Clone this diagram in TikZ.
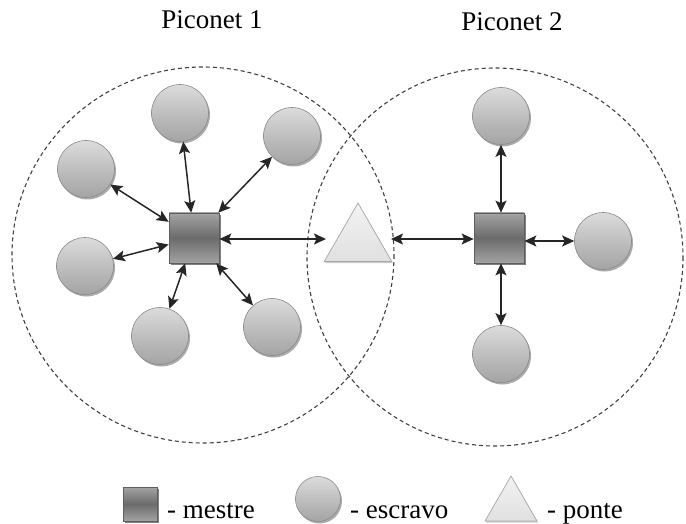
\documentclass[tikz,border=0pt]{standalone}
\usepackage{fontspec}
\setmainfont{Liberation Serif}
\newfontfamily\capfont{Liberation Serif}
\usetikzlibrary{arrows.meta,shapes.geometric,shadows}
\definecolor{edgegray}{HTML}{8A8A8A}
\definecolor{sqedge}{HTML}{5E5E5E}
\tikzset{
  slave/.style={circle, minimum size=57pt, inner sep=0pt, draw=edgegray, line width=0.6pt,
    top color=black!14, bottom color=black!36,
    drop shadow={shadow xshift=1.5pt, shadow yshift=-2pt, fill=black!55, opacity=0.6}},
  master/.style={rectangle, minimum size=50pt, inner sep=0pt, draw=sqedge, line width=0.7pt,
    top color=black!36, bottom color=black!36, middle color=black!58,
    drop shadow={shadow xshift=2pt, shadow yshift=-2pt, fill=black!70, opacity=0.7}},
  bridge/.style={regular polygon, regular polygon sides=3, inner sep=0pt, draw=black!35, line width=0.7pt,
    top color=black!5, bottom color=black!12,
    drop shadow={shadow xshift=1pt, shadow yshift=-1.5pt, fill=black!35, opacity=0.6}},
  tip/.tip={Stealth[length=12pt,width=11pt,inset=2.5pt]},
  link/.style={tip-tip, line width=1.5pt, draw=black!85},
  piconet/.style={draw=black!75, dash pattern=on 4pt off 3pt, line width=1.1pt},
  lbl/.style={font=\capfont\fontsize{27}{30}\selectfont, inner sep=0pt}
}
\begin{document}
\begin{tikzpicture}[x=1pt,y=-1pt]
\useasboundingbox (0,0) rectangle (686,524);
% piconet areas
\draw[piconet] (203,255) ellipse [x radius=191, y radius=188];
\draw[piconet] (495,257) ellipse [x radius=188, y radius=189];
% titles
\node[lbl, anchor=base] (t1) at (212,29) {Piconet 1};
\node[lbl, anchor=base] (t2) at (512,31) {Piconet 2};
% piconet 1
\node[master] (m1) at (194,238) {};
\node[slave] (a1) at (180,113) {};
\node[slave] (a2) at (292,136) {};
\node[slave] (a3) at (86,169) {};
\node[slave] (a4) at (85,266) {};
\node[slave] (a5) at (160,336) {};
\node[slave] (a6) at (272,327) {};
% bridge
\node[bridge, minimum size=78pt] (br) at (358,242) {};
\coordinate (brL) at (326,239);
\coordinate (brR) at (391,239);
% piconet 2
\node[master] (m2) at (499,238) {};
\node[slave] (b1) at (501,116) {};
\node[slave] (b2) at (603,241) {};
\node[slave] (b3) at (501,354) {};
% links
\foreach \s in {a1,a2,a3,a4,a5,a6} \draw[link] (m1) -- (\s);
\draw[link] (m1.east |- brL) -- (brL);
\draw[link] (brR) -- (m2.west |- brR);
\draw[link] (m2.north -| b1) -- (b1);
\draw[link] (m2.south -| b3) -- (b3);
\draw[link] (m2.east |- b2) -- (b2);
% legend
\node[master, minimum size=34pt] (lm) at (140,504) {};
\node[lbl, anchor=base west] (lmt) at (167,518) {- mestre};
\node[slave, minimum size=45pt] (ls) at (318,499) {};
\node[lbl, anchor=base west] (lst) at (350,518) {- escravo};
\node[bridge, minimum size=60pt] (lb) at (511,506) {};
\node[lbl, anchor=base west] (lbt) at (547,518) {- ponte};
\end{tikzpicture}
\end{document}
